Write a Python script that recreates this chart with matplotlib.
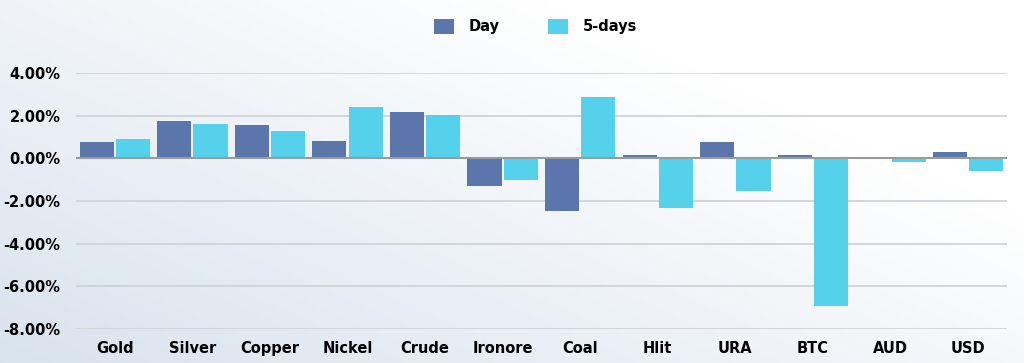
import numpy as np
import matplotlib
matplotlib.use("Agg")
import matplotlib.pyplot as plt
from matplotlib.ticker import FuncFormatter

categories = ["Gold", "Silver", "Copper", "Nickel", "Crude", "Ironore",
              "Coal", "Hlit", "URA", "BTC", "AUD", "USD"]
day = [0.75, 1.74, 1.58, 0.83, 2.16, -1.28, -2.47, 0.14, 0.75, 0.15, 0.02, 0.28]
five_days = [0.92, 1.61, 1.27, 2.39, 2.02, -1.00, 2.86, -2.33, -1.55, -6.95, -0.17, -0.62]
series_names = ["Day", "5-days"]
y_ticks = [4, 2, 0, -2, -4, -6, -8]

col_day = "#5a76ab"
col_5d = "#55d1eb"

plt.rcParams["font.family"] = ["DejaVu Sans"]
plt.rcParams["font.weight"] = "bold"

fig = plt.figure(figsize=(10.24, 3.63), dpi=100)

# soft background gradient (light blue-grey at the bottom left, white top right)
bg = fig.add_axes([0, 0, 1, 1], zorder=-10)
gx, gy = np.meshgrid(np.linspace(0, 1, 200), np.linspace(0, 1, 80))
t = np.clip(0.75 * gx + 0.6 * gy, 0, 1)
c0 = np.array([0.85, 0.89, 0.93])
c1 = np.array([1.0, 1.0, 1.0])
img = c0[None, None, :] * (1 - t[..., None]) + c1[None, None, :] * t[..., None]
bg.imshow(img, origin="lower", aspect="auto", extent=[0, 1, 0, 1])
bg.axis("off")

ax = fig.add_axes([0.0742, 0.094, 0.909, 0.705])
ax.patch.set_alpha(0)

x = np.arange(len(categories))
w = 0.44
ax.bar(x - w / 2 - 0.014, day, width=w, color=col_day, label=series_names[0], zorder=3)
ax.bar(x + w / 2 + 0.014, five_days, width=w, color=col_5d, label=series_names[1], zorder=3)

ax.set_xlim(-0.5, len(categories) - 0.5)
ax.set_ylim(-8, 4)
ax.set_yticks(y_ticks)
ax.yaxis.set_major_formatter(FuncFormatter(lambda v, p: f"{v:.2f}%"))
ax.set_xticks(x)
ax.set_xticklabels(categories)

for v in y_ticks:
    if v == 0:
        continue
    ax.axhline(v, color="#d0d4d8", lw=1.3, zorder=1)
ax.axhline(0, color="#9a9a9a", lw=1.5, zorder=4)

for s in ax.spines.values():
    s.set_visible(False)
ax.tick_params(axis="both", length=0, labelsize=10.5, colors="black")
ax.tick_params(axis="y", pad=11)
ax.tick_params(axis="x", pad=9)
for lab in ax.get_xticklabels() + ax.get_yticklabels():
    lab.set_fontweight("bold")

fig.legend(loc="upper center", bbox_to_anchor=(0.523, 0.985), ncol=2, frameon=False,
           handlelength=1.4, handleheight=1.3, columnspacing=3.3, handletextpad=1.0,
           prop={"weight": "bold", "size": 10.5})

fig.savefig("out.png", dpi=100)
